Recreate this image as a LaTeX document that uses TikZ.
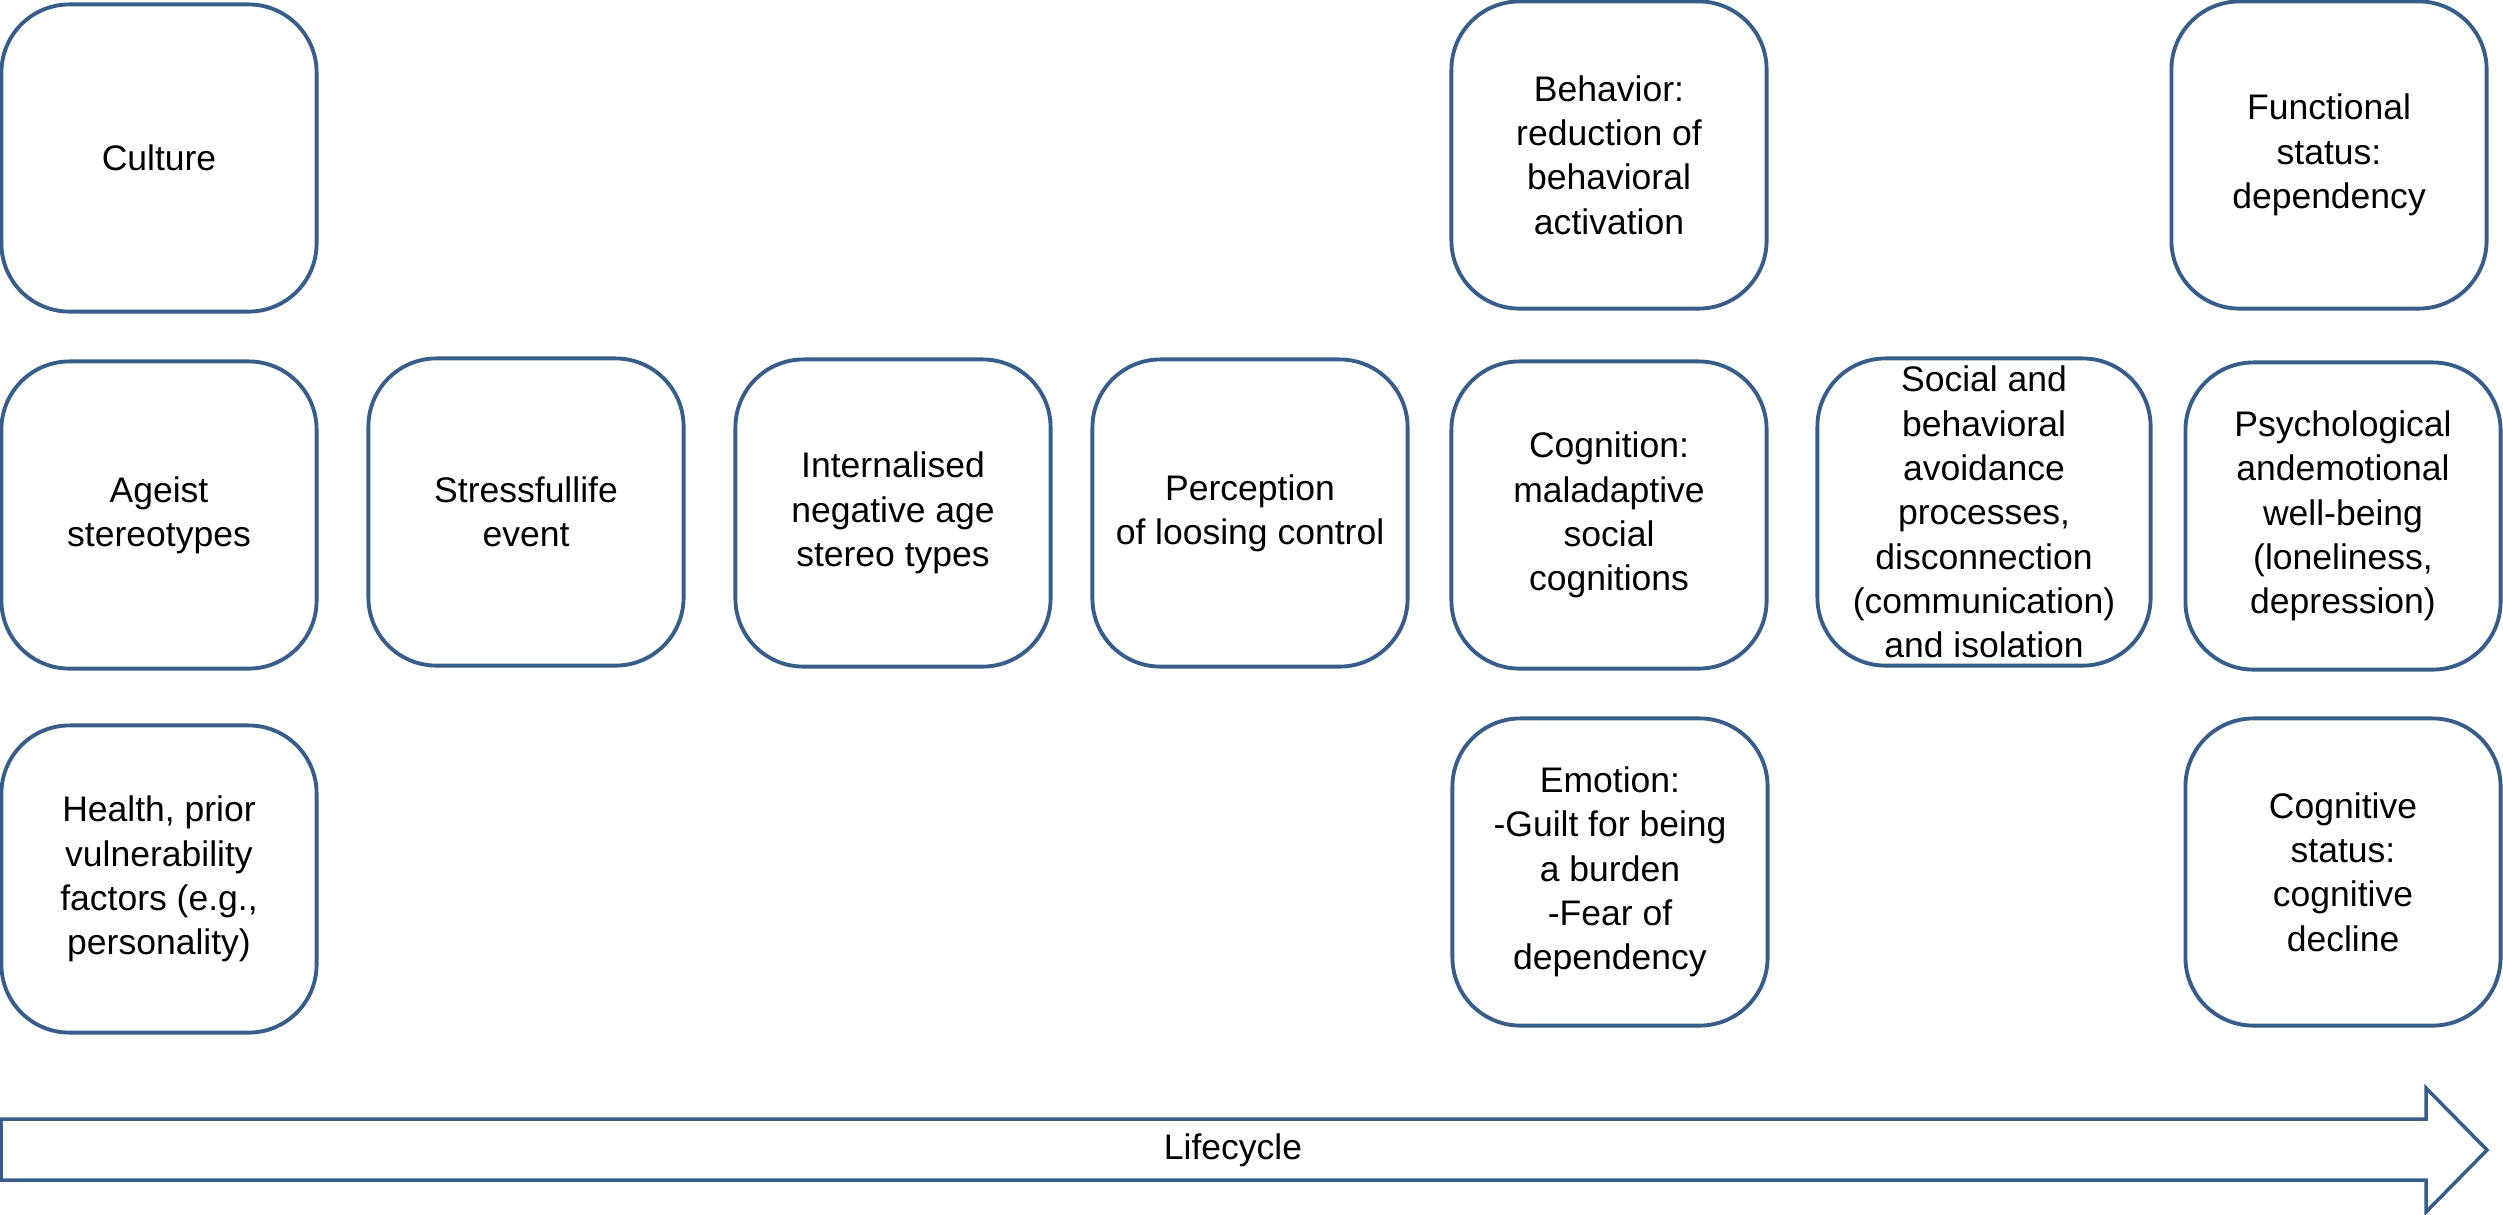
\documentclass[tikz,border=0pt]{standalone}
\usepackage{fontspec}
\setmainfont{Liberation Sans}
\definecolor{boxblue}{RGB}{56,93,138}
\begin{document}
\begin{tikzpicture}[line join=round, line cap=round,>=stealth,font=\fontsize{10.1pt}{12.6pt}\selectfont]
    \begin{scope}[x=0.01cm,y=-0.01cm]
        \tikzset{box style/.style={draw=boxblue, line width=1.1pt, rounded corners=0.68cm,
                align=center, inner sep=0pt, minimum width=\bw, minimum height=\bh}}
        \def \bw{3.15cm}
        \def \bh{3.07cm}
        \useasboundingbox (0,0) rectangle (2503,1214);
        % first column
        \node[box style] (culture) at (159,158) {Culture};
        \node[box style] (ageist) at (159,515) {Ageist\\stereotypes};
        \node[box style] (health) at (159,879) {Health, prior\\vulnerability\\factors (e.g.,\\personality)};
        % middle row
        \node[box style] (stress) at (526,512) {Stressfullife\\event};
        \node[box style] (intern) at (893,513) {Internalised\\negative age\\stereo types};
        \node[box style] (percep) at (1250,513) {Perception\\of loosing control};
        % behavior, cognition, emotion
        \node[box style] (behav) at (1609,155) {Behavior:\\reduction of\\behavioral\\activation};
        \node[box style] (cognit) at (1609,515) {Cognition:\\maladaptive\\social\\cognitions};
        \node[box style] (emot) at (1610,872) {Emotion:\\-Guilt for being\\a burden\\-Fear of\\dependency};
        \node[box style, minimum width=3.33cm] (social) at (1984,512) {Social and\\behavioral\\avoidance\\processes,\\disconnection\\(communication)\\and isolation};
        % outcomes
        \node[box style] (funct) at (2329,155) {Functional\\status:\\dependency};
        \node[box style] (psych) at (2343,516) {Psychological\\andemotional\\well-being\\(loneliness,\\depression)};
        \node[box style] (cogstat) at (2343,872) {Cognitive\\status:\\cognitive\\decline};
        % lifecycle arrow
        \draw[boxblue, line width=1pt, line join=miter] (1,1119) -- (2426,1119) -- (2426,1088) -- (2487,1150)
            -- (2426,1212) -- (2426,1180) -- (1,1180) -- cycle;
        \node (life) at (1233,1150) {Lifecycle};
    \end{scope}
\end{tikzpicture}
\end{document}
